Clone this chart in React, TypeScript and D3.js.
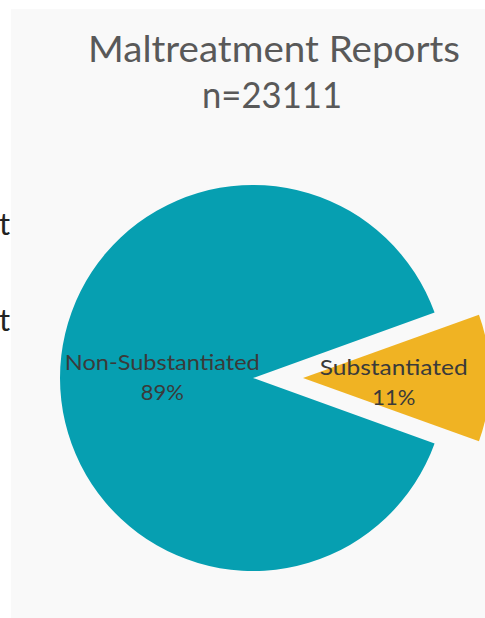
import React from "react";
import * as d3 from "d3";

const titleLines = ["Maltreatment Reports", "n=23111"];
const categories = ["Substantiated", "Non-Substantiated"];
const values = [11, 89];
const colors = ["#F0B323", "#069FB1"];
const clippedWords = ["t", "nt"];

const W = 485;
const H = 618;

export default function App() {
  const cx = 253;
  const cy = 378;
  const R = 193;
  const explode = 50;
  const total = d3.sum(values);
  const half = (values[0] / total) * Math.PI;
  const pie = d3
    .pie<number>()
    .sort(null)
    .value((d) => d)
    .startAngle(Math.PI / 2 - half)
    .endAngle(Math.PI / 2 - half + 2 * Math.PI);
  const arcs = pie(values);
  const arcMain = d3.arc<d3.PieArcDatum<number>>().innerRadius(0).outerRadius(R);
  const arcExp = d3.arc<d3.PieArcDatum<number>>().innerRadius(0).outerRadius(R - 6);
  const labelArc = d3.arc<d3.PieArcDatum<number>>().innerRadius(0.47 * R).outerRadius(0.47 * R);

  const font = "Lato, 'Open Sans', sans-serif";
  const labelWidths = [148, 195];

  return (
    <svg
      width={W}
      height={H}
      style={{ position: "absolute", left: 0, top: 0, overflow: "hidden" }}
    >
      <rect x={0} y={0} width={W} height={H} fill="#ffffff" />
      <rect x={11} y={9} width={W - 11} height={H - 9} fill="#f9f9f9" />
      {clippedWords.map((w, i) => (
        <text
          key={w}
          x={10}
          y={235 + i * 96}
          textAnchor="end"
          fontFamily={font}
          fontSize={31}
          fill="#222"
        >
          {w}
        </text>
      ))}
      <text
        x={274}
        y={62}
        textAnchor="middle"
        fontFamily={font}
        fontSize={37}
        fill="#595959"
        textLength={372}
        lengthAdjust="spacingAndGlyphs"
      >
        {titleLines[0]}
      </text>
      <text
        x={272}
        y={108}
        textAnchor="middle"
        fontFamily={font}
        fontSize={37}
        fill="#595959"
        textLength={140}
        lengthAdjust="spacingAndGlyphs"
      >
        {titleLines[1]}
      </text>
      {arcs.map((a, i) => {
        const mid = (a.startAngle + a.endAngle) / 2;
        const off = i === 0 ? explode : 0;
        const dx = Math.sin(mid) * off;
        const dy = -Math.cos(mid) * off;
        const arcGen = i === 0 ? arcExp : arcMain;
        const [lx, ly] = labelArc.centroid(a);
        return (
          <g key={categories[i]} transform={`translate(${cx + dx},${cy + dy})`}>
            <path d={arcGen(a) || ""} fill={colors[i]} />
            <text
              x={lx}
              y={ly - 8 + (i === 0 ? 5 : 0)}
              textAnchor="middle"
              fontFamily={font}
              fontSize={22}
              fill="#3a3a3a"
              textLength={labelWidths[i]}
              lengthAdjust="spacingAndGlyphs"
            >
              {categories[i]}
            </text>
            <text
              x={lx}
              y={ly + 22 + (i === 0 ? 5 : 0)}
              textAnchor="middle"
              fontFamily={font}
              fontSize={22}
              fill="#3a3a3a"
            >
              {`${values[i]}%`}
            </text>
          </g>
        );
      })}
    </svg>
  );
}
